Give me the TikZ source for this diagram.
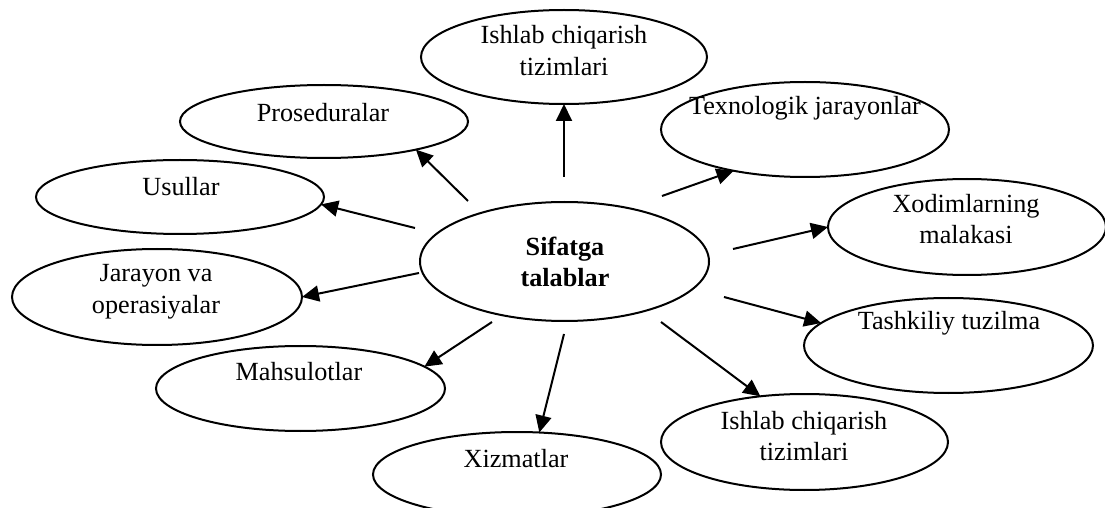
\documentclass[tikz,border=0pt]{standalone}
\usepackage{fontspec}
\setmainfont{Liberation Serif}
\usetikzlibrary{arrows.meta,shapes.geometric}
\begin{document}
\begin{tikzpicture}[x=0.5pt,y=-0.5pt,
  ell/.style={draw,ellipse,line width=1pt,inner sep=0pt,outer sep=0pt},
  lbl/.style={align=center,inner sep=0pt,font=\fontsize{13.1}{15.75}\selectfont},
  link/.style={line width=1pt,-{Triangle[length=8.5pt,width=8pt]}}]
  \useasboundingbox (0,0) rectangle (1105,508);
  \clip (0,0) rectangle (1105,508);

  % ellipses (minimum width/height in pt equal the radii in picture units)
  \node[ell,minimum width=143pt,minimum height=47pt]   (top) at (564,57) {};
  \node[ell,minimum width=144pt,minimum height=36.5pt] (pro) at (324,121.5) {};
  \node[ell,minimum width=144pt,minimum height=37pt]   (usu) at (180,197) {};
  \node[ell,minimum width=144pt,minimum height=47.5pt] (tex) at (805,129.5) {};
  \node[ell,minimum width=139pt,minimum height=48pt]   (xod) at (967,227) {};
  \node[ell,minimum width=145pt,minimum height=48pt]   (jar) at (157,297) {};
  \node[ell,minimum width=144.5pt,minimum height=59.5pt] (sif) at (564.5,261.5) {};
  \node[ell,minimum width=144.5pt,minimum height=47.5pt] (tas) at (948.5,345.5) {};
  \node[ell,minimum width=144.5pt,minimum height=42.5pt] (mah) at (300.5,388.5) {};
  \node[ell,minimum width=143.5pt,minimum height=48pt] (isb) at (804.5,442) {};
  \node[ell,minimum width=144pt,minimum height=42.5pt] (xiz) at (517,474.5) {};

  % labels
  \node[lbl] (ttop) at (564,50.5) {Ishlab chiqarish\\tizimlari};
  \node[lbl] (tpro) at (323,113) {Proseduralar};
  \node[lbl] (tusu) at (181,187) {Usullar};
  \node[lbl] (ttex) at (805,108) {Texnologik jarayonlar};
  \node[lbl] (txod) at (966,219) {Xodimlarning\\malakasi};
  \node[lbl] (tjar) at (156,291.5) {Jarayon va\\operasiyalar};
  \node[lbl,font=\fontsize{13.1}{15.75}\selectfont\bfseries] (tsif) at (565,262) {Sifatga\\talablar};
  \node[lbl] (ttas) at (949,323) {Tashkiliy tuzilma};
  \node[lbl] (tmah) at (299,372) {Mahsulotlar};
  \node[lbl] (tisb) at (804,436) {Ishlab chiqarish\\tizimlari};
  \node[lbl] (txiz) at (516,459) {Xizmatlar};

  % free starting points of the arrows around the centre
  \coordinate (s1) at (564,177);
  \coordinate (s2) at (468,201);
  \coordinate (s3) at (415,228);
  \coordinate (s4) at (419,273);
  \coordinate (s5) at (492,322);
  \coordinate (s6) at (564,334);
  \coordinate (s7) at (661,322);
  \coordinate (s8) at (724,297);
  \coordinate (s9) at (733,249);
  \coordinate (s10) at (662,196);

  \draw[link] (s1) -- (top.south);
  \draw[link] (s2) -- (pro.-17);
  \draw[link] (s3) -- (usu.-3);
  \draw[link] (s4) -- (jar.east);
  \draw[link] (s5) -- (mah.10);
  \draw[link] (s6) -- (xiz.62);
  \draw[link] (s7) -- (isb.134);
  \draw[link] (s8) -- (tas.170);
  \draw[link] (s9) -- (xod.west);
  \draw[link] (s10) -- (tex.210);
\end{tikzpicture}
\end{document}
